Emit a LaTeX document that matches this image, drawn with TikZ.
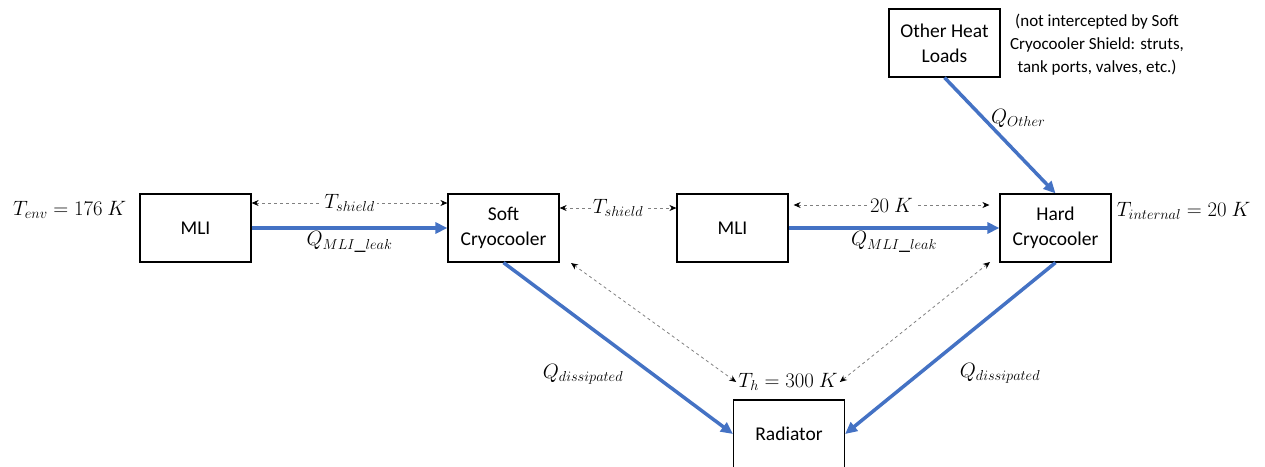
\documentclass[tikz,border=0pt]{standalone}
\usepackage{fontspec}
\setmainfont{Carlito}
\usetikzlibrary{positioning,arrows.meta}
\definecolor{heatblue}{HTML}{4472C4}

\begin{document}
\begin{tikzpicture}[x=1pt, y=-1pt, every node/.style={font=\fontsize{19.5}{25}\selectfont, text=black},
  box/.style={draw, line width=1.2pt, minimum height=68pt, minimum width=111pt, align=center, inner sep=0pt},
  heat/.style={heatblue, line width=3.5pt, -{Triangle[length=12pt,width=11pt]}},
  temp/.style={gray, dashed, line width=0.8pt, {Stealth[black,length=7pt,width=6pt]}-{Stealth[black,length=7pt,width=6pt]}},
  lbl/.style={inner sep=2pt, font=\fontsize{22}{26}\selectfont}]
  \useasboundingbox (0,0) rectangle (1265,466);
  \node[box] (mli1) at (195.5,228) {MLI};
  \node[box] (soft) at (503.5,228) {Soft\\Cryocooler};
  \node[box] (mli2) at (732.5,228) {MLI};
  \node[box] (hard) at (1055.5,228) {Hard\\Cryocooler};
  \node[box] (other) at (944.5,43) {Other Heat\\Loads};
  \node[box] (rad) at (789,434) {Radiator};
  \node[lbl, font=\fontsize{21}{25}\selectfont, left=11pt of mli1.north west, anchor=north east, yshift=-6pt] (tenv) {$T_{env}=176\ K$};
  \node[lbl, right=3pt of hard.north east, anchor=north west, yshift=-7pt] (tint) {$T_{internal}=20\ K$};
  \node[right=6pt of other.north east, anchor=north west, yshift=-2pt, align=center,
    font=\fontsize{17}{23}\selectfont] (note) {(not intercepted by Soft\\Cryocooler Shield: struts,\\tank ports, valves, etc.)};
  \node[lbl] (th) at (788,382) {$T_h=300\ K$};
  \coordinate (softc) at (571,263);
  \coordinate (hardc) at (990,262);
  \draw[temp] ([yshift=25pt]mli1.east) -- node[fill=white, lbl] {$T_{shield}$} ([yshift=25pt]soft.west);
  \draw[temp] ([yshift=20pt]soft.east) -- node[fill=white, lbl] {$T_{shield}$} ([yshift=20pt]mli2.west);
  \draw[temp] ([yshift=23pt, xshift=5pt]mli2.east) -- node[fill=white, lbl] {$20\ K$} ([yshift=23pt, xshift=-10pt]hard.west);
  \draw[temp] (softc) -- (th.west);
  \draw[temp] (hardc) -- (th.east);
  \draw[heat] (mli1) -- node[lbl, below=0pt] {$Q_{MLI\_leak}$} (soft);
  \draw[heat] (mli2) -- node[lbl, below=0pt] {$Q_{MLI\_leak}$} (hard);
  \draw[heat] (other.south) -- node[lbl, right=4pt, pos=0.35] {$Q_{Other}$} (hard.north);
  \draw[heat] (soft.south) -- (rad.west);
  \draw[heat] (hard.south) -- (rad.east);
  \node[lbl] at (583,374) (qsoft) {$Q_{dissipated}$};
  \node[lbl] at (1000,373) (qhard) {$Q_{dissipated}$};
\end{tikzpicture}
\end{document}
